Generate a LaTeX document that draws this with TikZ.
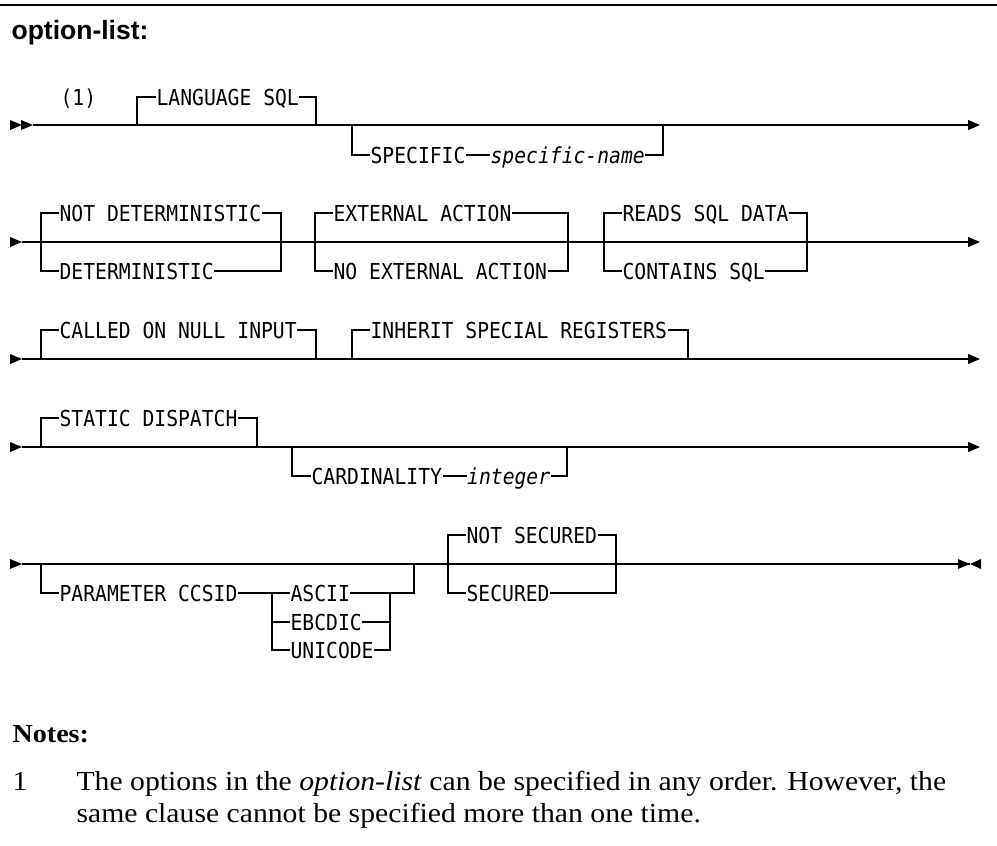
\documentclass[tikz,border=0pt]{standalone}
\usepackage{fontspec}
\usepackage{tikz}
\usetikzlibrary{arrows.meta,positioning}
\newfontfamily\rrmono[FakeStretch=0.895]{DejaVu Sans Mono}
\newfontfamily\rrsans{Liberation Sans}
\newfontfamily\rrserif[FakeStretch=1.08]{Liberation Serif}

\begin{document}
\begin{tikzpicture}[x=1pt, y=-1pt, line width=1.2pt, >={Triangle[length=12pt,width=10pt]},
		rrtext/.style={anchor=west, inner sep=0pt, text height=16pt, text depth=0pt,
			font=\rrmono\fontsize{22}{24}\selectfont},
		rrvar/.style={rrtext, font=\rrmono\itshape\fontsize{22}{24}\selectfont},
		notetext/.style={anchor=base west, inner sep=0pt, font=\rrserif\fontsize{27.5}{30}\selectfont},
		rrstart/.pic={\fill (-12,-5) -- (0,0) -- (-12,5) -- cycle;},
		rrstop/.pic={\fill (-12,-5) -- (0,0) -- (-12,5) -- cycle;
			\fill (11,-5) -- (0,0) -- (11,5) -- cycle;}]
		\useasboundingbox (0,0) rectangle (997,846);
		\coordinate (bl) at (0,5);
		\coordinate (br) at (997,5);
		\draw[line width=1.5pt] (bl) -- (br);
		\node[anchor=base west, inner sep=0pt, font=\rrsans\bfseries\fontsize{26.5}{30}\selectfont](title) at (11,39) {option-list:};

		\coordinate (s1) at (33,125);
		\coordinate (e1) at (980,125);
		\coordinate (j1a) at (137,125);
		\coordinate (j1b) at (316,125);
		\coordinate (j1c) at (352,125);
		\coordinate (j1d) at (663,125);
		\node[rrtext](ref1) at (60,97) {(1)};
		\node[rrtext](lang) at (156,97) {LANGUAGE SQL};
		\node[rrtext](spec) at (370,155) {SPECIFIC};
		\node[rrvar](specname)[right=24pt of spec]{specific-name};
		\draw[->] (s1) -- (e1);
		\pic at (22,125) {rrstart};
		\pic at (s1) {rrstart};
		\draw (j1a) |- (lang.west);
		\draw (lang.east) -| (j1b);
		\draw (j1c) |- (spec.west);
		\draw (spec.east) -- (specname.west);
		\draw (specname.east) -| (j1d);

		\coordinate (s2) at (22,242);
		\coordinate (e2) at (980,242);
		\coordinate (j2a) at (41,242);
		\coordinate (j2b) at (281,242);
		\coordinate (j2c) at (315,242);
		\coordinate (j2d) at (568,242);
		\coordinate (j2e) at (604,242);
		\coordinate (j2f) at (807,242);
		\node[rrtext](notdet) at (59,213) {NOT DETERMINISTIC};
		\node[rrtext](det) at (59,271) {DETERMINISTIC};
		\node[rrtext](extact) at (333,213) {EXTERNAL ACTION};
		\node[rrtext](noext) at (333,271) {NO EXTERNAL ACTION};
		\node[rrtext](reads) at (622,213) {READS SQL DATA};
		\node[rrtext](contains) at (622,271) {CONTAINS SQL};
		\draw[->] (s2) -- (e2);
		\pic at (s2) {rrstart};
		\draw (notdet.west) -| (j2a) |- (det.west);
		\draw (notdet.east) -| (j2b) |- (det.east);
		\draw (extact.west) -| (j2c) |- (noext.west);
		\draw (extact.east) -| (j2d) |- (noext.east);
		\draw (reads.west) -| (j2e) |- (contains.west);
		\draw (reads.east) -| (j2f) |- (contains.east);

		\coordinate (s3) at (22,359);
		\coordinate (e3) at (980,359);
		\coordinate (j3a) at (41,359);
		\coordinate (j3b) at (316,359);
		\coordinate (j3c) at (352,359);
		\coordinate (j3d) at (688,359);
		\node[rrtext](called) at (59,330) {CALLED ON NULL INPUT};
		\node[rrtext](inherit) at (370,330) {INHERIT SPECIAL REGISTERS};
		\draw[->] (s3) -- (e3);
		\pic at (s3) {rrstart};
		\draw (j3a) |- (called.west);
		\draw (called.east) -| (j3b);
		\draw (j3c) |- (inherit.west);
		\draw (inherit.east) -| (j3d);

		\coordinate (s4) at (22,447);
		\coordinate (e4) at (980,447);
		\coordinate (j4a) at (41,447);
		\coordinate (j4b) at (257,447);
		\coordinate (j4c) at (292,447);
		\coordinate (j4d) at (567,447);
		\node[rrtext](static) at (59,418) {STATIC DISPATCH};
		\node[rrtext](card) at (311,476) {CARDINALITY};
		\node[rrvar](cardint)[right=24pt of card]{integer};
		\draw[->] (s4) -- (e4);
		\pic at (s4) {rrstart};
		\draw (j4a) |- (static.west);
		\draw (static.east) -| (j4b);
		\draw (j4c) |- (card.west);
		\draw (card.east) -- (cardint.west);
		\draw (cardint.east) -| (j4d);

		\coordinate (s5) at (22,564);
		\coordinate (e5) at (970,564);
		\coordinate (j5a) at (41,564);
		\coordinate (j5b) at (414,564);
		\coordinate (j5c) at (448,564);
		\coordinate (j5d) at (616,564);
		\coordinate (k5a) at (272,593);
		\coordinate (k5b) at (390,593);
		\node[rrtext](parm) at (59,593) {PARAMETER CCSID};
		\node[rrtext](ascii) at (290,593) {ASCII};
		\node[rrtext](ebcdic) at (290,622) {EBCDIC};
		\node[rrtext](unicode) at (290,650) {UNICODE};
		\node[rrtext](notsec) at (466,535) {NOT SECURED};
		\node[rrtext](sec) at (466,593) {SECURED};
		\draw (s5) -- (e5);
		\pic at (s5) {rrstart};
		\pic at (e5) {rrstop};
		\draw (j5a) |- (parm.west);
		\draw (parm.east) -- (ascii.west);
		\draw (k5a) |- (ebcdic.west);
		\draw (k5a) |- (unicode.west);
		\draw (ascii.east) -| (j5b);
		\draw (ebcdic.east) -| (k5b);
		\draw (unicode.east) -| (k5b);
		\draw (notsec.west) -| (j5c) |- (sec.west);
		\draw (notsec.east) -| (j5d) |- (sec.east);

		\node[anchor=base west, inner sep=0pt, font=\rrserif\bfseries\fontsize{26}{30}\selectfont](notes) at (12,742) {Notes:};
		\node[notetext](num1) at (12,790) {1};
		\node[notetext](line1) at (76,790) {The options in the \textit{option-list} can be specified in any order. However, the};
		\node[notetext](line2) at (76,822) {same clause cannot be specified more than one time.};
	\end{tikzpicture}
\end{document}
